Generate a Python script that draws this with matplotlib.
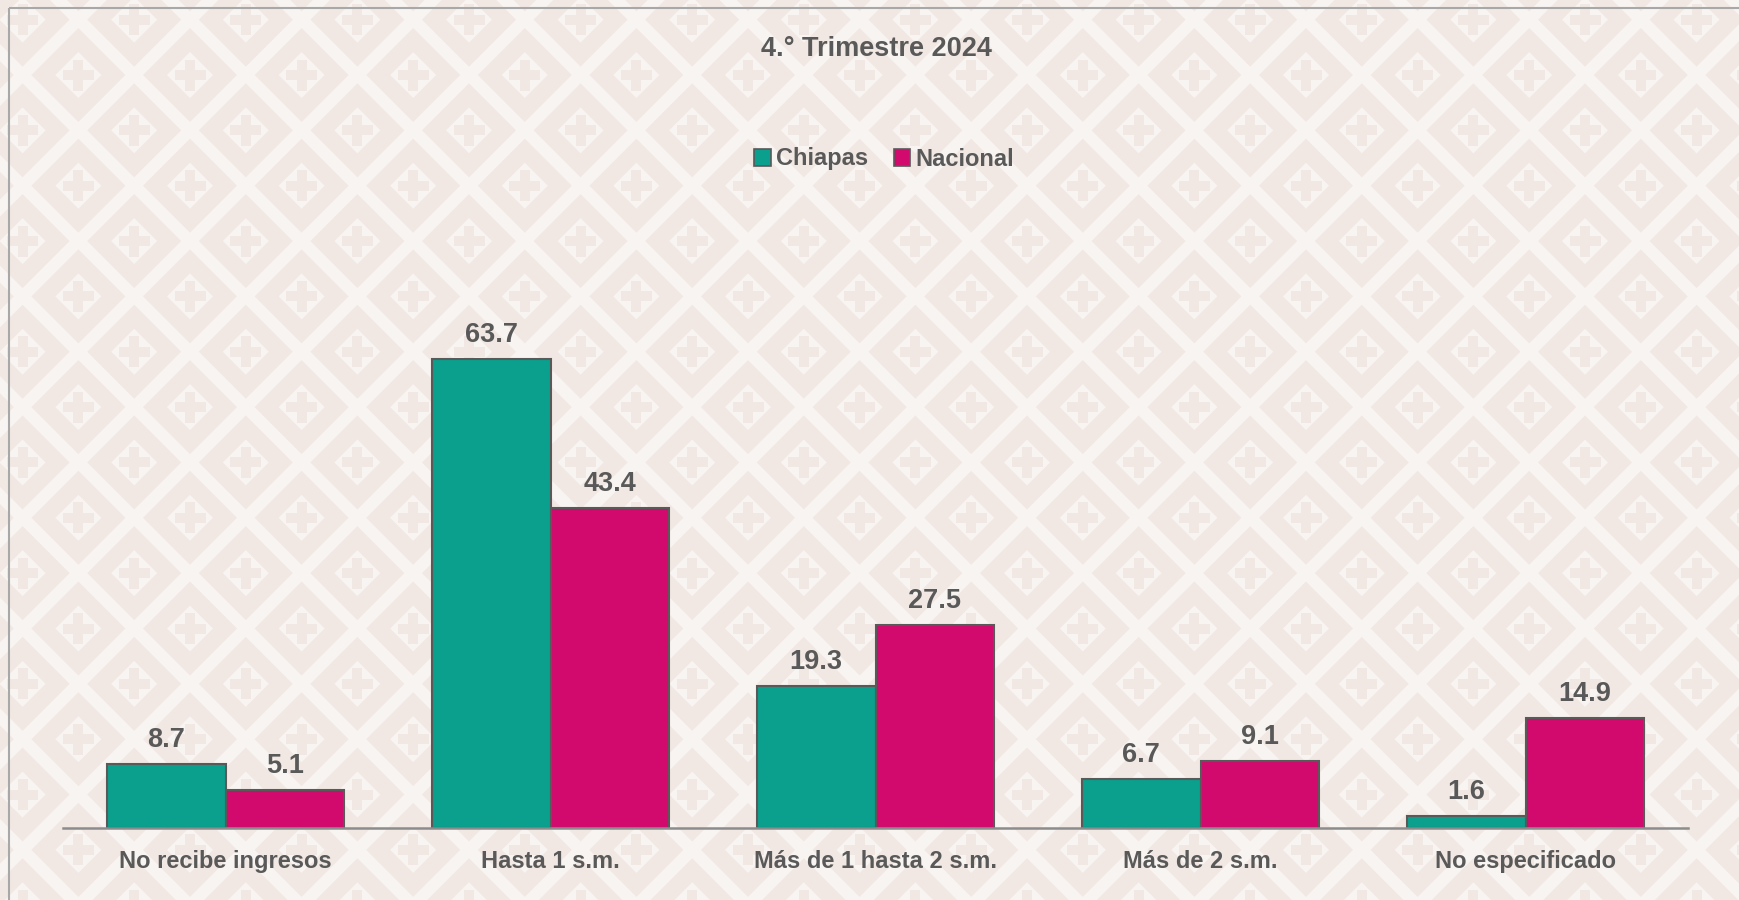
import numpy as np
import matplotlib
matplotlib.use("Agg")
import matplotlib.pyplot as plt
from matplotlib.collections import PolyCollection
from matplotlib.patches import Rectangle, Patch

# Data
categories = ["No recibe ingresos", "Hasta 1 s.m.", "Más de 1 hasta 2 s.m.",
              "Más de 2 s.m.", "No especificado"]
chiapas = [8.7, 63.7, 19.3, 6.7, 1.6]
nacional = [5.1, 43.4, 27.5, 9.1, 14.9]
series_names = ["Chiapas", "Nacional"]
title = "4.° Trimestre 2024"

teal = "#0BA08D"
magenta = "#D30A6E"
text_gray = "#595959"
light_bg = "#F8F4F1"
beige = "#F2E8E3"

plt.rcParams["font.family"] = ["Liberation Sans", "DejaVu Sans"]

W, H = 1739, 900
fig = plt.figure(figsize=(W / 100, H / 100), dpi=100)

# Background tile pattern (pixel coordinates)
bg = fig.add_axes([0, 0, 1, 1], zorder=-10)
bg.set_xlim(0, W)
bg.set_ylim(H, 0)
bg.axis("off")
fig.patch.set_facecolor(light_bg)

px, py = 111.6, 110.7
x0, y0 = 190, 75
outer, inner, arm, half_t = 47, 23, 15.5, 5
outer_polys, inner_polys, cross_polys = [], [], []
for j in range(-2, 11):
    for i in range(-3, 18):
        for off in (0, 0.5):
            cx = x0 + (i + off) * px
            cy = y0 + (j + off) * py
            if cx < -80 or cx > W + 80 or cy < -80 or cy > H + 80:
                continue
            outer_polys.append([(cx - outer, cy), (cx, cy - outer), (cx + outer, cy), (cx, cy + outer)])
            inner_polys.append([(cx - inner, cy), (cx, cy - inner), (cx + inner, cy), (cx, cy + inner)])
            cross_polys.append([
                (cx - half_t, cy - arm), (cx + half_t, cy - arm), (cx + half_t, cy - half_t),
                (cx + arm, cy - half_t), (cx + arm, cy + half_t), (cx + half_t, cy + half_t),
                (cx + half_t, cy + arm), (cx - half_t, cy + arm), (cx - half_t, cy + half_t),
                (cx - arm, cy + half_t), (cx - arm, cy - half_t), (cx - half_t, cy - half_t)])
bg.add_collection(PolyCollection(outer_polys, facecolors=beige, edgecolors="none"))
bg.add_collection(PolyCollection(inner_polys, facecolors=light_bg, edgecolors="none"))
bg.add_collection(PolyCollection(cross_polys, facecolors=beige, edgecolors="none"))
bg.add_patch(Rectangle((9, 8), W, H, fill=False, edgecolor="#A8A8A8", lw=1.5))

# Main chart
base_px = 828
ymax = 80
ax = fig.add_axes([63 / W, (H - base_px) / H, (1688 - 63) / W, ymax * 7.37 / H])
ax.set_facecolor("none")
x = np.arange(len(categories))
bw = 0.365
b1 = ax.bar(x - bw / 2, chiapas, bw, color=teal, edgecolor=text_gray, linewidth=1.5, label=series_names[0])
b2 = ax.bar(x + bw / 2, nacional, bw, color=magenta, edgecolor=text_gray, linewidth=1.5, label=series_names[1])

for bars, vals in ((b1, chiapas), (b2, nacional)):
    for rect, v in zip(bars, vals):
        ax.annotate(f"{v:.1f}", (rect.get_x() + rect.get_width() / 2, v),
                    xytext=(0, 11), textcoords="offset pixels", ha="center", va="bottom",
                    fontsize=19.5, fontweight="bold", color=text_gray)

ax.set_xlim(-0.5, len(categories) - 0.5)
ax.set_ylim(0, ymax)
ax.set_yticks([])
ax.set_xticks(x)
ax.set_xticklabels(categories, fontsize=17, fontweight="bold", color=text_gray)
ax.tick_params(axis="x", length=0, pad=16)
for s in ("top", "left", "right"):
    ax.spines[s].set_visible(False)
ax.spines["bottom"].set_color("#8C8C8C")
ax.spines["bottom"].set_linewidth(1.8)

fig.text(876 / W, 1 - 49 / H, title, ha="center", va="center",
         fontsize=19.5, fontweight="bold", color=text_gray)

handles = [Patch(facecolor=teal, edgecolor=text_gray, linewidth=1.2),
           Patch(facecolor=magenta, edgecolor=text_gray, linewidth=1.2)]
fig.legend(handles, series_names, loc="center", bbox_to_anchor=(884 / W, 1 - 159 / H),
           ncol=2, frameon=False, handlelength=0.7, handleheight=0.7, handletextpad=0.2,
           columnspacing=1.1, prop={"size": 17, "weight": "bold"}, labelcolor=text_gray)

fig.savefig("out.png", dpi=100, facecolor=fig.get_facecolor())
